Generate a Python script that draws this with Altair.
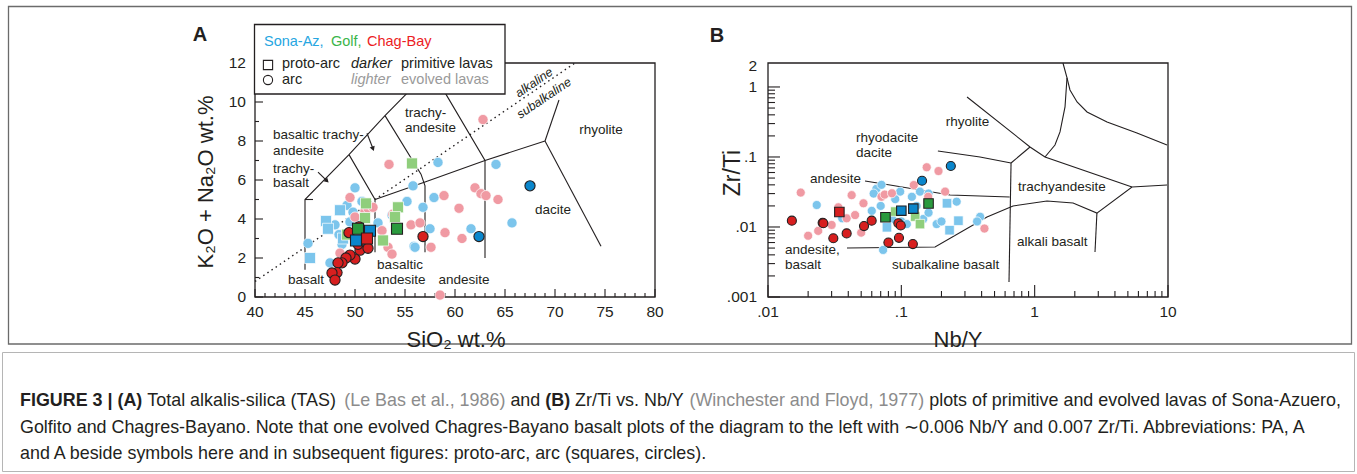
import altair as alt
import pandas as pd

INK = "#231f20"
GRAY = "#8c8c8c"
FONT = "Liberation Sans"

# ---------------- colours ----------------
SA_DARK, SA_LIGHT = "#0a86cc", "#7cc5ec"
GO_DARK, GO_LIGHT = "#2a9a3e", "#8fce7c"
CB_DARK, CB_LIGHT = "#d71f1f", "#f09aa3"

# ---------------- Panel A : TAS ----------------
A_X_DOMAIN = [40, 80]
A_Y_DOMAIN = [0, 12]
A_X_PIX = [255, 655]
A_Y_PIX = [297, 63]
A_X_TICKS = [40, 45, 50, 55, 60, 65, 70, 75, 80]
A_Y_TICKS = [0, 2, 4, 6, 8, 10, 12]
A_X_MINOR = [v for v in range(41, 80) if v % 5]
A_Y_MINOR = [1, 3, 5, 7, 9, 11]

TAS_SA_EVOLVED_ARC = [(45.3, 2.75), (47.5, 1.75), (48.0, 3.7), (48.7, 2.7), (49.2, 4.7), (49.8, 4.35),
                      (49.5, 3.85), (50.0, 5.6), (51.0, 2.8), (50.7, 4.9), (48.4, 3.2), (52.3, 3.8),
                      (53.7, 4.2), (55.2, 4.9), (55.8, 5.7), (56.8, 4.6), (57.5, 3.5), (55.9, 2.6),
                      (58.3, 6.9), (57.9, 5.1), (56.0, 2.55), (61.6, 3.5), (64.1, 6.8), (65.7, 3.8),
                      (50.5, 3.9)]
TAS_SA_EVOLVED_PA = [(45.5, 2.0), (47.1, 3.9), (47.3, 3.5), (48.5, 4.45), (48.8, 3.0)]
TAS_SA_PRIM_ARC = [(67.5, 5.7), (62.4, 3.1)]
TAS_SA_PRIM_PA = [(50.1, 2.9), (51.5, 3.4)]
TAS_GO_EVOLVED_PA = [(55.7, 6.85), (51.1, 4.8), (54.3, 4.6), (51.0, 4.05), (52.8, 2.9), (49.2, 3.2), (54.0, 4.1)]
TAS_GO_PRIM_PA = [(50.3, 3.5), (54.2, 3.5)]
TAS_CB_EVOLVED_ARC = [(53.4, 6.8), (49.5, 5.1), (51.0, 4.4), (51.3, 4.55), (51.8, 4.6), (50.0, 4.1),
                      (52.7, 3.4), (53.3, 2.55), (53.7, 2.2), (48.5, 2.25), (55.6, 3.7), (56.5, 3.8),
                      (57.6, 2.55), (58.5, 0.1), (53.8, 4.25), (58.9, 5.2), (60.4, 4.55), (62.0, 5.6),
                      (62.6, 5.3), (63.1, 5.2), (64.3, 5.0), (60.7, 3.0), (59.0, 3.3), (62.8, 9.1)]
TAS_CB_PRIM_ARC = [(49.4, 3.3), (50.4, 3.6), (50.5, 2.4), (51.3, 2.5), (50.0, 1.95), (49.5, 2.15),
                   (49.1, 2.0), (48.7, 1.75), (48.3, 1.75), (48.2, 1.25), (47.7, 1.23), (48.0, 0.87),
                   (56.8, 3.1), (50.3, 2.7)]
TAS_CB_PRIM_PA = [(51.2, 3.0)]

TAS_LINE_1 = [(45, 1.4), (45, 5), (49.4, 7.3), (53, 9.3), (57.6, 11.7)]
TAS_LINE_2 = [(45, 5), (45.8, 5)]
TAS_LINE_3 = [(49.4, 7.3), (52, 5), (52, 2.3)]
TAS_LINE_4 = [(53, 9.3), (56.6, 6.3), (57, 5.7), (57, 2.3)]
TAS_LINE_5 = [(52, 5), (57, 5.9), (63, 7), (69, 8)]
TAS_LINE_6 = [(57.6, 11.7), (63, 7), (63, 2.0)]
TAS_LINE_7 = [(69, 8), (70.4, 10.1)]
TAS_LINE_8 = [(69, 8), (74.6, 2.6)]
TAS_ALKALINE_LINE = [(40, 0.8), (72, 12)]
TAS_ARROW_1 = [(51.2, 8.4), (51.8, 7.6)]
TAS_ARROW_2 = [(46.3, 6.4), (47.2, 5.95)]

TAS_LABELS_LEFT = ["basaltic trachy-", "andesite", "trachy-", "basalt", "trachy-", "andesite"]
TAS_LABELS_LEFT_X = [41.8, 41.8, 41.8, 41.8, 55.0, 55.0]
TAS_LABELS_LEFT_Y = [8.3, 7.5, 6.55, 5.85, 9.45, 8.67]
TAS_LABELS_CENTER = ["rhyolite", "dacite", "basaltic", "andesite", "andesite", "basalt"]
TAS_LABELS_CENTER_X = [74.6, 69.8, 54.5, 54.5, 60.9, 45.1]
TAS_LABELS_CENTER_Y = [8.56, 4.46, 1.64, 0.87, 0.87, 0.87]

# ---------------- Panel B : Zr/Ti vs Nb/Y ----------------
B_X_DOMAIN = [0.01, 10]
B_Y_DOMAIN = [0.001, 2.2]
B_X_PIX = [768, 1168]
B_Y_PIX = [297, 63]
B_X_TICKS = [0.01, 0.1, 1, 10]
B_X_TICK_LABELS = [".01", ".1", "1", "10"]
B_Y_TICKS = [0.001, 0.01, 0.1, 1]
B_Y_LABEL_VALUES = [0.001, 0.01, 0.1, 1, 2]
B_Y_TICK_LABELS = [".001", ".01", ".1", "1", "2"]
B_X_MINOR = [m * 10.0 ** k for k in (-2, -1, 0) for m in range(2, 10)]
B_Y_MINOR = [m * 10.0 ** k for k in (-3, -2, -1) for m in range(2, 10)]

ZT_SA_EVOLVED_ARC = [(0.0232, 0.0206), (0.036, 0.0133), (0.065, 0.035), (0.071, 0.040), (0.062, 0.030),
                     (0.098, 0.032), (0.138, 0.032), (0.16, 0.030), (0.073, 0.0047), (0.10, 0.012),
                     (0.146, 0.013), (0.184, 0.011), (0.26, 0.023), (0.39, 0.014), (0.37, 0.012),
                     (0.06, 0.017), (0.07, 0.020), (0.085, 0.013), (0.11, 0.011), (0.13, 0.020),
                     (0.16, 0.016), (0.20, 0.012), (0.09, 0.025), (0.12, 0.027)]
ZT_SA_EVOLVED_PA = [(0.22, 0.0218), (0.268, 0.0123), (0.23, 0.009), (0.078, 0.0099)]
ZT_SA_PRIM_ARC = [(0.143, 0.0458), (0.235, 0.0743)]
ZT_SA_PRIM_PA = [(0.10, 0.0171), (0.123, 0.0183)]
ZT_GO_EVOLVED_PA = [(0.09, 0.0166), (0.127, 0.0141), (0.138, 0.011)]
ZT_GO_PRIM_PA = [(0.076, 0.0138), (0.16, 0.0217)]
ZT_CB_EVOLVED_ARC = [(0.0176, 0.031), (0.020, 0.0075), (0.0238, 0.0088), (0.030, 0.0107), (0.0337, 0.0191),
                     (0.0389, 0.0133), (0.045, 0.0148), (0.052, 0.0218), (0.050, 0.0083), (0.0424, 0.0285),
                     (0.071, 0.027), (0.075, 0.029), (0.085, 0.0303), (0.155, 0.0713), (0.19, 0.063),
                     (0.124, 0.0397), (0.213, 0.032), (0.42, 0.0095), (0.159, 0.027)]
ZT_CB_PRIM_ARC = [(0.0151, 0.0123), (0.0257, 0.0115), (0.026, 0.0113), (0.0309, 0.0069), (0.0389, 0.0081),
                  (0.0525, 0.0103), (0.0599, 0.0123), (0.080, 0.006), (0.095, 0.0113), (0.099, 0.0105),
                  (0.096, 0.0070), (0.122, 0.0057)]
ZT_CB_PRIM_PA = [(0.0343, 0.0164)]

WF_LINE_1 = [(0.0391, 0.00501), (0.179, 0.00518), (0.439, 0.0139), (0.688, 0.0200), (1.237, 0.0235),
             (1.94, 0.022), (2.93, 0.0158), (5.37, 0.0372), (9.83, 0.0398)]
WF_LINE_2 = [(2.93, 0.0158), (2.835, 0.0044)]
WF_LINE_3 = [(0.642, 0.00164), (0.665, 0.082)]
WF_LINE_4 = [(0.0534, 0.0454), (0.0822, 0.0398), (0.232, 0.0286), (0.65, 0.0268)]
WF_LINE_5 = [(0.188, 0.122), (0.389, 0.10), (0.665, 0.082)]
WF_LINE_6 = [(0.311, 0.72), (0.923, 0.139), (1.195, 0.10), (5.37, 0.0372)]
WF_LINE_7 = [(0.665, 0.082), (0.923, 0.139)]
WF_LINE_8 = [(1.63, 2.2), (1.748, 1.35), (1.689, 0.518), (1.549, 0.228), (1.42, 0.148), (1.195, 0.10)]
WF_LINE_9 = [(1.748, 1.35), (1.84, 0.906), (2.08, 0.611), (2.47, 0.44), (3.49, 0.316), (5.85, 0.22), (9.83, 0.148)]

WF_LABELS = ["rhyolite", "rhyodacite", "dacite", "andesite", "andesite,", "basalt", "subalkaline basalt",
             "trachyandesite", "alkali basalt"]
WF_LABELS_X = [0.215, 0.0457, 0.0457, 0.02065, 0.01341, 0.01341, 0.0851, 0.75, 0.737]
WF_LABELS_Y = [0.316, 0.1866, 0.114, 0.0485, 0.00469, 0.00287, 0.00287, 0.0373, 0.0061]

# ---------------- caption ----------------
CAPTION_LINE_1 = [("FIGURE 3 | (A)", True, INK), ("Total alkalis-silica (TAS)", False, INK),
                  ("(Le Bas et al., 1986)", False, GRAY), ("and", False, INK), ("(B)", True, INK),
                  ("Zr/Ti vs. Nb/Y", False, INK), ("(Winchester and Floyd, 1977)", False, GRAY),
                  ("plots of primitive and evolved lavas of Sona-Azuero,", False, INK)]
CAPTION_LINE_2 = [("Golfito and Chagres-Bayano. Note that one evolved Chagres-Bayano basalt plots of the diagram "
                   "to the left with \u223c0.006 Nb/Y and 0.007 Zr/Ti. Abbreviations: PA, A", False, INK)]
CAPTION_LINE_3 = [("and A beside symbols here and in subsequent figures: proto-arc, arc (squares, circles).", False, INK)]
CAPTION_Y = [401, 428, 454]
CAPTION_SIZE = 17.9

# Helvetica/Arial advance widths (1/1000 em) for placing caption segments
_NORMAL = {}
for chars, w in [(" ", 278), ("!,./:;I", 278), ("()-r", 333), ("|", 260), ("0123456789", 556),
                 ("ABEKPSVXY", 667), ("CDHNRU", 722), ("FTZ", 611), ("GOQ", 778), ("J", 500), ("L", 556),
                 ("M", 833), ("W", 944), ("abdeghnopqu", 556), ("cksvxyz", 500), ("ft", 278),
                 ("ijl", 222), ("m", 833), ("w", 722), ("\u223c~", 584)]:
    for c in chars:
        _NORMAL[c] = w
_BOLD = dict(_NORMAL)
for chars, w in [("ABCDHKNRU", 722), ("EPSVXY", 667), ("FTZ", 611), ("GOQ", 778), ("|", 280), ("()", 333)]:
    for c in chars:
        _BOLD[c] = w


def text_width(s, size, bold=False):
    table = _BOLD if bold else _NORMAL
    return sum(table.get(c, 556) for c in s) * size / 1000.0


# ---------------- helpers ----------------
def sc(domain, rng, typ="linear"):
    return alt.Scale(type=typ, domain=domain, range=rng, nice=False, zero=False)


def xa():
    return alt.X("x:Q", scale=sc(A_X_DOMAIN, A_X_PIX), axis=None)


def ya():
    return alt.Y("y:Q", scale=sc(A_Y_DOMAIN, A_Y_PIX), axis=None)


def xb():
    return alt.X("x:Q", scale=sc(B_X_DOMAIN, B_X_PIX, "log"), axis=None)


def yb():
    return alt.Y("y:Q", scale=sc(B_Y_DOMAIN, B_Y_PIX, "log"), axis=None)


def pts(points):
    return pd.DataFrame(points, columns=["x", "y"])


def lines_df(named):
    rows = []
    for name, p in named:
        for i, (x, y) in enumerate(p):
            rows.append({"id": name, "ord": i, "x": x, "y": y})
    return pd.DataFrame(rows)


ONE = pd.DataFrame({"a": [0]})


def point_layer(points, shape, size, fill, prim, X, Y):
    return alt.Chart(pts(points)).mark_point(
        shape=shape, filled=True, size=size, fill=fill, opacity=1,
        stroke=INK if prim else "white", strokeWidth=1.1 if prim else 0.7
    ).encode(x=X(), y=Y())


def text_layer(texts, xs, ys, X, Y, align="left", size=13.5, color=INK, **kw):
    df = pd.DataFrame({"x": xs, "y": ys, "t": texts})
    return alt.Chart(df).mark_text(align=align, baseline="middle", font=FONT, fontSize=size,
                                   color=color, **kw).encode(x=X(), y=Y(), text="t:N")


def pix_text(text, px, py, size, color=INK, align="left", **kw):
    return alt.Chart(ONE).mark_text(align=align, baseline="middle", font=FONT, fontSize=size,
                                    color=color, **kw).encode(
        x=alt.value(px), y=alt.value(py), text=alt.value(text))


def pix_rect(x1, y1, x2, y2, stroke, sw, fill="white", fill_opacity=0):
    return alt.Chart(ONE).mark_rect(fill=fill, fillOpacity=fill_opacity, stroke=stroke,
                                    strokeWidth=sw).encode(
        x=alt.value(x1), x2=alt.value(x2), y=alt.value(y1), y2=alt.value(y2))


# ---------------- Panel A layers ----------------
A_layers = []
A_layers.append(alt.Chart(lines_df([("1", TAS_LINE_1), ("2", TAS_LINE_2), ("3", TAS_LINE_3), ("4", TAS_LINE_4),
                                     ("5", TAS_LINE_5), ("6", TAS_LINE_6), ("7", TAS_LINE_7), ("8", TAS_LINE_8),
                                     ("a1", TAS_ARROW_1), ("a2", TAS_ARROW_2)]))
                .mark_line(color=INK, strokeWidth=1.1)
                .encode(x=xa(), y=ya(), detail="id:N", order="ord:Q"))
A_layers.append(alt.Chart(lines_df([("d", TAS_ALKALINE_LINE)]))
                .mark_line(color=INK, strokeWidth=1.4, strokeDash=[1.5, 3.5])
                .encode(x=xa(), y=ya(), detail="id:N", order="ord:Q"))
A_layers.append(alt.Chart(pd.DataFrame({"x": [TAS_ARROW_1[1][0], TAS_ARROW_2[1][0]],
                                        "y": [TAS_ARROW_1[1][1], TAS_ARROW_2[1][1]],
                                        "ang": [339, 314]}))
                .mark_point(shape="triangle-down", filled=True, size=28, fill=INK, opacity=1, strokeWidth=0)
                .encode(x=xa(), y=ya(), angle=alt.Angle("ang:Q", scale=None)))
# frame
A_layers.append(alt.Chart(pd.DataFrame({"x": [A_X_DOMAIN[0]], "x2": [A_X_DOMAIN[1]],
                                        "y": [A_Y_DOMAIN[0]], "y2": [A_Y_DOMAIN[1]]}))
                .mark_rect(fillOpacity=0, stroke=INK, strokeWidth=1.3)
                .encode(x=xa(), x2="x2:Q", y=ya(), y2="y2:Q"))
# ticks (inward)
A_layers.append(alt.Chart(pd.DataFrame({"x": A_X_TICKS})).mark_rule(color=INK, strokeWidth=1.1)
                .encode(x=xa(), y=alt.value(297), y2=alt.value(289)))
A_layers.append(alt.Chart(pd.DataFrame({"x": A_X_MINOR})).mark_rule(color=INK, strokeWidth=1.1)
                .encode(x=xa(), y=alt.value(297), y2=alt.value(293)))
A_layers.append(alt.Chart(pd.DataFrame({"y": A_Y_TICKS})).mark_rule(color=INK, strokeWidth=1.1)
                .encode(y=ya(), x=alt.value(255), x2=alt.value(263)))
A_layers.append(alt.Chart(pd.DataFrame({"y": A_Y_MINOR})).mark_rule(color=INK, strokeWidth=1.1)
                .encode(y=ya(), x=alt.value(255), x2=alt.value(259)))
# tick labels
A_layers.append(alt.Chart(pd.DataFrame({"x": A_X_TICKS, "t": [str(v) for v in A_X_TICKS]}))
                .mark_text(align="center", baseline="middle", font=FONT, fontSize=15.5, color=INK)
                .encode(x=xa(), y=alt.value(312), text="t:N"))
A_layers.append(alt.Chart(pd.DataFrame({"y": A_Y_TICKS, "t": [str(v) for v in A_Y_TICKS]}))
                .mark_text(align="right", baseline="middle", font=FONT, fontSize=15.5, color=INK)
                .encode(y=ya(), x=alt.value(246), text="t:N"))
# field labels
A_layers.append(text_layer(TAS_LABELS_LEFT, TAS_LABELS_LEFT_X, TAS_LABELS_LEFT_Y, xa, ya, "left"))
A_layers.append(text_layer(TAS_LABELS_CENTER, TAS_LABELS_CENTER_X, TAS_LABELS_CENTER_Y, xa, ya, "center"))
A_layers.append(text_layer(["alkaline"], [67.9], [11.0], xa, ya, "center", 12.5, angle=326, fontStyle="italic"))
A_layers.append(text_layer(["subalkaline"], [68.9], [10.2], xa, ya, "center", 12.5, angle=326, fontStyle="italic"))
# points: evolved first, primitive on top
A_layers += [
    point_layer(TAS_SA_EVOLVED_ARC, "circle", 104, SA_LIGHT, False, xa, ya),
    point_layer(TAS_CB_EVOLVED_ARC, "circle", 104, CB_LIGHT, False, xa, ya),
    point_layer(TAS_SA_EVOLVED_PA, "square", 121, SA_LIGHT, False, xa, ya),
    point_layer(TAS_GO_EVOLVED_PA, "square", 121, GO_LIGHT, False, xa, ya),
    point_layer(TAS_CB_PRIM_ARC, "circle", 104, CB_DARK, True, xa, ya),
    point_layer(TAS_SA_PRIM_ARC, "circle", 104, SA_DARK, True, xa, ya),
    point_layer(TAS_GO_PRIM_PA, "square", 121, GO_DARK, True, xa, ya),
    point_layer(TAS_SA_PRIM_PA, "square", 121, SA_DARK, True, xa, ya),
    point_layer(TAS_CB_PRIM_PA, "square", 121, CB_DARK, True, xa, ya),
]
# legend box (on top of the plot)
A_layers.append(pix_rect(254.5, 24.5, 505, 94, INK, 1.3, fill="white", fill_opacity=1))
A_layers += [
    pix_text("Sona-Az,", 264, 42, 14.5, "#27a6e1"),
    pix_text("Golf,", 331, 42, 14.5, "#3ab54a"),
    pix_text("Chag-Bay", 367, 42, 14.5, "#ec1c24"),
    pix_text("proto-arc", 282, 64, 14.5),
    pix_text("arc", 282, 80, 14.5),
    pix_text("darker", 351, 64, 14.5, INK, fontStyle="italic"),
    pix_text("lighter", 351, 80, 14.5, "#9a9a9a", fontStyle="italic"),
    pix_text("primitive lavas", 401, 64, 14.5),
    pix_text("evolved lavas", 401, 80, 14.5, "#9a9a9a"),
]
A_layers.append(alt.Chart(pd.DataFrame({"px": [268, 268], "py": [65, 80], "s": ["square", "circle"]}))
                .mark_point(filled=False, size=85, stroke=INK, strokeWidth=1.1, opacity=1)
                .encode(x=alt.X("px:Q", scale=None), y=alt.Y("py:Q", scale=None),
                        shape=alt.Shape("s:N", scale=None)))
panel_A = alt.layer(*A_layers)

# ---------------- Panel B layers ----------------
B_layers = []
B_layers.append(alt.Chart(lines_df([("1", WF_LINE_1), ("2", WF_LINE_2), ("3", WF_LINE_3), ("4", WF_LINE_4),
                                     ("5", WF_LINE_5), ("6", WF_LINE_6), ("7", WF_LINE_7), ("8", WF_LINE_8),
                                     ("9", WF_LINE_9)]))
                .mark_line(color=INK, strokeWidth=1.1)
                .encode(x=xb(), y=yb(), detail="id:N", order="ord:Q"))
B_layers.append(alt.Chart(pd.DataFrame({"x": [B_X_DOMAIN[0]], "x2": [B_X_DOMAIN[1]],
                                        "y": [B_Y_DOMAIN[0]], "y2": [B_Y_DOMAIN[1]]}))
                .mark_rect(fillOpacity=0, stroke=INK, strokeWidth=1.3)
                .encode(x=xb(), x2="x2:Q", y=yb(), y2="y2:Q"))
B_layers.append(alt.Chart(pd.DataFrame({"x": B_X_TICKS})).mark_rule(color=INK, strokeWidth=1.1)
                .encode(x=xb(), y=alt.value(297), y2=alt.value(285)))
B_layers.append(alt.Chart(pd.DataFrame({"x": B_X_MINOR})).mark_rule(color=INK, strokeWidth=1.1)
                .encode(x=xb(), y=alt.value(297), y2=alt.value(291)))
B_layers.append(alt.Chart(pd.DataFrame({"y": B_Y_TICKS})).mark_rule(color=INK, strokeWidth=1.1)
                .encode(y=yb(), x=alt.value(768), x2=alt.value(780)))
B_layers.append(alt.Chart(pd.DataFrame({"y": B_Y_MINOR})).mark_rule(color=INK, strokeWidth=1.1)
                .encode(y=yb(), x=alt.value(768), x2=alt.value(775)))
B_layers.append(alt.Chart(pd.DataFrame({"x": B_X_TICKS, "t": B_X_TICK_LABELS}))
                .mark_text(align="center", baseline="middle", font=FONT, fontSize=15.5, color=INK)
                .encode(x=xb(), y=alt.value(312), text="t:N"))
B_layers.append(alt.Chart(pd.DataFrame({"y": B_Y_LABEL_VALUES, "t": B_Y_TICK_LABELS}))
                .mark_text(align="right", baseline="middle", font=FONT, fontSize=15.5, color=INK)
                .encode(y=yb(), x=alt.value(757), text="t:N"))
B_layers.append(text_layer(WF_LABELS, WF_LABELS_X, WF_LABELS_Y, xb, yb, "left"))
B_layers += [
    point_layer(ZT_SA_EVOLVED_ARC, "circle", 82, SA_LIGHT, False, xb, yb),
    point_layer(ZT_CB_EVOLVED_ARC, "circle", 82, CB_LIGHT, False, xb, yb),
    point_layer(ZT_SA_EVOLVED_PA, "square", 90, SA_LIGHT, False, xb, yb),
    point_layer(ZT_GO_EVOLVED_PA, "square", 90, GO_LIGHT, False, xb, yb),
    point_layer(ZT_CB_PRIM_ARC, "circle", 82, CB_DARK, True, xb, yb),
    point_layer(ZT_SA_PRIM_ARC, "circle", 82, SA_DARK, True, xb, yb),
    point_layer(ZT_GO_PRIM_PA, "square", 90, GO_DARK, True, xb, yb),
    point_layer(ZT_SA_PRIM_PA, "square", 90, SA_DARK, True, xb, yb),
    point_layer(ZT_CB_PRIM_PA, "square", 90, CB_DARK, True, xb, yb),
]
panel_B = alt.layer(*B_layers)

# ---------------- decorations: titles, frames, caption ----------------
D = []
D.append(pix_rect(8.5, 6.5, 1351.5, 344, "#6b6b6b", 1.3))
D.append(pix_rect(2.5, 352.5, 1354.5, 471.5, "#b5b5b5", 1.0))
D.append(pix_text("A", 200, 35, 20, INK, "center", fontWeight="bold"))
D.append(pix_text("B", 717, 36, 20, INK, "center", fontWeight="bold"))
D.append(pix_text("K\u2082O + Na\u2082O  wt.%", 206, 182, 22, INK, "center", angle=270))
D.append(pix_text("SiO\u2082 wt.%", 456, 340, 22, INK, "center"))
D.append(pix_text("Zr/Ti", 733, 173, 23, INK, "center", angle=270))
D.append(pix_text("Nb/Y", 958, 340, 22, INK, "center"))

for line, py in zip([CAPTION_LINE_1, CAPTION_LINE_2, CAPTION_LINE_3], CAPTION_Y):
    px = 20.0
    for seg, bold, col in line:
        kw = {"fontWeight": "bold"} if bold else {}
        D.append(pix_text(seg, px, py, CAPTION_SIZE, col, "left", **kw))
        px += text_width(seg, CAPTION_SIZE, bold) + text_width(" ", CAPTION_SIZE)
decor = alt.layer(*D)

chart = (alt.layer(panel_A, panel_B, decor)
         .resolve_scale(x="independent", y="independent")
         .properties(width=1357, height=474, padding=0, background="white",
                     autosize=alt.AutoSizeParams(type="none"))
         .configure_view(strokeWidth=0))

chart.save("out.html", embed_options={"renderer": "svg", "actions": False})
